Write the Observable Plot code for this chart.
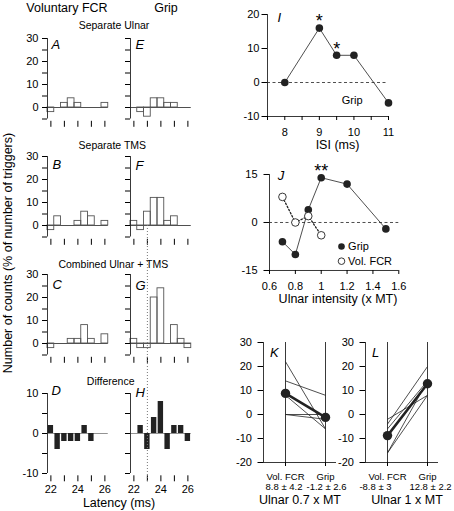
<!DOCTYPE html>
<html><head><meta charset="utf-8">
<script src="https://cdn.jsdelivr.net/npm/d3@7"></script>
<script src="https://cdn.jsdelivr.net/npm/@observablehq/plot@0.6"></script>
<style>
body{margin:0;background:#fff;}
#fig{position:relative;width:454px;height:511px;overflow:hidden;font-family:"Liberation Sans",Arial,Helvetica,sans-serif;color:#000;background:#fff;}
.lbl{position:absolute;white-space:nowrap;line-height:1;}
</style></head><body><div id="fig"></div>
<script>
// ---------------- DATA ----------------
const columnTitles = ["Voluntary FCR", "Grip"];
const rowTitles = ["Separate Ulnar", "Separate TMS", "Combined Ulnar + TMS", "Difference"];
const yTitle = "Number of counts (% of number of triggers)";
const latencyTitle = "Latency (ms)";

const latencyBins = [22, 22.5, 23, 23.5, 24, 24.5, 25, 25.5, 26];
const volSeparateUlnar  = [-2, 0, 2, 4, 2, 0, 0, 0, 2];      // A
const volSeparateTMS    = [-2, 4, 0, 0, 2, 6, 4, 0, 2];      // B
const volCombined       = [-2, 0, 0, 2, 2, 8, 2, 0, 4];      // C
const volDifference     = [2, -4, -2, -2, -2, 2, -2, 0, 0];  // D
const gripSeparateUlnar = [0, -2, -4, 4, 4, 2, 2, 0, 0];     // E
const gripSeparateTMS   = [2, -2, 6, 12, 12, 2, 4, 0, 0];    // F
const gripCombined      = [2, -2, -2, 20, 24, 0, 8, 2, -2];  // G
const gripDifference    = [0, 2, -4, 4, 8, -4, 2, 2, -2];    // H
const markerLatency = 23;

const latTicks = [22, 23, 24, 25, 26];
const latTickLabels = [22, 24, 26];
const histYTicks = [-5, 0, 5, 10, 15, 20, 25, 30];
const histYLabels = [0, 10, 20, 30];
const diffYTicks = [-10, -5, 0, 5, 10];
const diffYLabels = [-10, 0, 10];

// Panel I
const isiValues = [8, 9, 9.5, 10, 11];
const isiGrip = [0, 16, 8, 8, -6];
const isiStars = ["", "*", "*", "", ""];
const isiTicks = [7.5, 8, 8.5, 9, 9.5, 10, 10.5, 11];
const isiTickLabels = [8, 9, 10, 11];
const isiYTicks = [-10, 0, 10, 20];
const isiTitle = "ISI (ms)";
const isiSeriesLabel = "Grip";

// Panel J
const intensityGrip = [0.7, 0.8, 0.9, 1.0, 1.2, 1.5];
const gripByIntensity = [-6, -10, 4, 14, 12, -2];
const gripStars = ["", "", "", "**", "", ""];
const intensityVol = [0.7, 0.8, 0.9, 1.0];
const volByIntensity = [8, 0, 2, -4];
const intensityTicks = [0.6, 0.8, 1, 1.2, 1.4, 1.6];
const intensityYTicks = [-15, 0, 15];
const intensityTitle = "Ulnar intensity (x MT)";
const legendNames = ["Grip", "Vol. FCR"];

// Panels K, L
const tasks = ["Vol. FCR", "Grip"];
const pairedYTicks = [-20, -10, 0, 10, 20, 30];
const k07Vol  = [22, 14, 8, 0, 0];
const k07Grip = [-6, 8, -6, -2, 0];
const k07Mean = [8.8, -1.2];
const k07Stats = ["8.8 ± 4.2", "-1.2 ± 2.6"];
const k07Title = "Ulnar 0.7 x MT";
const l1Vol  = [-2, -4, -6, -16, -16];
const l1Grip = [8, 20, 14, 14, 8];
const l1Mean = [-8.8, 12.8];
const l1Stats = ["-8.8 ± 3", "12.8 ± 2.2"];
const l1Title = "Ulnar 1 x MT";

// ---------------- DRAWING ----------------
const ink = "#222";
const FONT = '"Liberation Sans", Arial, Helvetica, sans-serif';
const fig = document.getElementById("fig");

function place(svg, left, top) {
  svg.style.position = "absolute";
  svg.style.left = left + "px";
  svg.style.top = top + "px";
  fig.appendChild(svg);
}
function framed(opts, frame, margins) {
  const [x0, y0, x1, y1] = frame;
  const [mt, mr, mb, ml] = margins;
  const svg = Plot.plot({
    ...opts,
    width: x1 - x0 + ml + mr,
    height: y1 - y0 + mt + mb,
    marginTop: mt, marginRight: mr, marginBottom: mb, marginLeft: ml,
    style: {background: "transparent", overflow: "visible", fontFamily: FONT, fontSize: "11px", color: "#000"}
  });
  place(svg, x0 - ml, y0 - mt);
}
function label(text, x, y, size, rotate, extra) {
  const d = document.createElement("div");
  d.className = "lbl";
  d.textContent = text;
  d.style.left = x + "px";
  d.style.top = y + "px";
  d.style.fontSize = size + "px";
  d.style.transform = "translate(-50%, -50%)" + (rotate ? ` rotate(${rotate}deg)` : "");
  if (extra) Object.assign(d.style, extra);
  fig.appendChild(d);
}
function letterMark(letter, dx, dy) {
  return Plot.text([letter], {text: d => d, frameAnchor: "top-left", dx, dy, lineAnchor: "top", textAnchor: "start", fontSize: 13, fontStyle: "italic"});
}

const latDomain = [21.75, 26.25];

function histogram(values, letter, frame, lo, labelled) {
  const data = latencyBins.map((t, i) => ({t, v: values[i]})).filter(d => d.v !== 0);
  framed({
    x: {domain: latDomain},
    y: {domain: [-5, 30]},
    marks: [
      Plot.ruleY([0], {stroke: ink, strokeWidth: 0.8}),
      Plot.rect(data, {x1: d => d.t - 0.25, x2: d => d.t + 0.25, y1: 0, y2: "v", fill: "none", stroke: "#555", strokeWidth: 0.9, inset: 0}),
      Plot.ruleX([latDomain[0]], {y1: -5, y2: 30, stroke: ink, strokeWidth: 0.9}),
      Plot.axisY({ticks: histYTicks, tickSize: 5, tickPadding: 4, label: null,
        tickFormat: d => labelled && histYLabels.includes(d) ? String(d) : ""}),
      Plot.axisX({ticks: latTicks, tickSize: 6, dy: 2.3, label: null, tickFormat: () => ""}),
      letterMark(letter, lo[0], lo[1])
    ]
  }, frame, [12, 6, 16, 32]);
}
function difference(values, letter, frame, lo, labelled) {
  const data = latencyBins.map((t, i) => ({t, v: values[i]})).filter(d => d.v !== 0);
  framed({
    x: {domain: latDomain},
    y: {domain: [-10, 10]},
    marks: [
      Plot.ruleY([0], {stroke: "#777", strokeWidth: 0.8}),
      Plot.rect(data, {x1: d => d.t - 0.2, x2: d => d.t + 0.2, y1: 0, y2: "v", fill: ink, inset: 0}),
      Plot.ruleX([latDomain[0]], {y1: -10, y2: 10, stroke: ink, strokeWidth: 0.9}),
      Plot.axisY({ticks: diffYTicks, tickSize: 5, tickPadding: 4, label: null,
        tickFormat: d => labelled && diffYLabels.includes(d) ? String(d) : ""}),
      Plot.axisX({ticks: latTicks, tickSize: 6, tickPadding: 3, dy: 2.3, label: null,
        tickFormat: d => latTickLabels.includes(d) ? String(d) : ""}),
      letterMark(letter, lo[0], lo[1])
    ]
  }, frame, [14, 6, 24, 32]);
}

const leftX = [46.6, 107.35], rightX = [129.9, 190.65];
histogram(volSeparateUlnar, "A", [leftX[0], 38, leftX[1], 118.5], [4, 1.3], true);
histogram(volSeparateTMS,   "B", [leftX[0], 156, leftX[1], 236.5], [5, 3], true);
histogram(volCombined,      "C", [leftX[0], 273.5, leftX[1], 354], [5, 4.8], true);
difference(volDifference,   "D", [leftX[0], 392.7, leftX[1], 472.7], [4, -7.7], true);
histogram(gripSeparateUlnar,"E", [rightX[0], 38, rightX[1], 118.5], [5, 1.3], false);
histogram(gripSeparateTMS,  "F", [rightX[0], 156, rightX[1], 236.5], [5, 4], false);
histogram(gripCombined,     "G", [rightX[0], 273.5, rightX[1], 354], [5, 5.8], false);
difference(gripDifference,  "H", [rightX[0], 392.7, rightX[1], 472.7], [5, -6], false);

// dotted latency marker across F, G, H
framed({
  x: {domain: latDomain, axis: null},
  marks: [Plot.ruleX([markerLatency], {stroke: "#777", strokeWidth: 1, strokeDasharray: "1,2"})]
}, [rightX[0], 225, rightX[1], 483], [0, 0, 0, 0]);

// Panel I
{
  const data = isiValues.map((x, i) => ({x, y: isiGrip[i], star: isiStars[i]}));
  framed({
    x: {domain: [7.5, 11]},
    y: {domain: [-10, 20]},
    marks: [
      Plot.ruleY([0], {stroke: ink, strokeWidth: 0.8, strokeDasharray: "3,2.5"}),
      Plot.ruleX([7.5], {stroke: ink, strokeWidth: 0.9}),
      Plot.ruleY([-10], {stroke: ink, strokeWidth: 0.9}),
      Plot.line(data, {x: "x", y: "y", stroke: ink, strokeWidth: 0.8}),
      Plot.dot(data, {x: "x", y: "y", r: 3.8, fill: ink}),
      Plot.text(data.filter(d => d.star), {x: "x", y: "y", text: "star", dy: -6.5, fontSize: 18}),
      Plot.axisY({ticks: isiYTicks, tickSize: 5.5, tickPadding: 2.5, label: null, tickFormat: String}),
      Plot.axisX({ticks: isiTicks, tickSize: 4, tickPadding: 8, label: null,
        tickFormat: d => isiTickLabels.includes(d) ? String(d) : ""}),
      Plot.text([isiSeriesLabel], {text: d => d, frameAnchor: "bottom-right", dx: -26, dy: -16, textAnchor: "end", lineAnchor: "middle", fontSize: 11}),
      letterMark("I", 10, -2)
    ]
  }, [267, 14.3, 388, 116.3], [10, 10, 24, 30]);
  label(isiTitle, 337.5, 145, 12.5);
}

// Panel J
{
  const grip = intensityGrip.map((x, i) => ({x, y: gripByIntensity[i], star: gripStars[i]}));
  const vol = intensityVol.map((x, i) => ({x, y: volByIntensity[i]}));
  framed({
    x: {domain: [0.6, 1.6]},
    y: {domain: [-15, 15]},
    marks: [
      Plot.ruleY([0], {stroke: ink, strokeWidth: 0.8, strokeDasharray: "3,2.5"}),
      Plot.ruleX([0.6], {stroke: ink, strokeWidth: 0.9}),
      Plot.ruleY([-15], {stroke: ink, strokeWidth: 0.9}),
      Plot.line(grip, {x: "x", y: "y", stroke: ink, strokeWidth: 0.8}),
      Plot.line(vol, {x: "x", y: "y", stroke: ink, strokeWidth: 1.3, strokeDasharray: "1.5,2"}),
      Plot.dot(grip, {x: "x", y: "y", r: 3.8, fill: ink}),
      Plot.dot(vol, {x: "x", y: "y", r: 3.8, fill: "white", stroke: ink, strokeWidth: 0.9}),
      Plot.text(grip.filter(d => d.star), {x: "x", y: "y", text: "star", dy: -6, fontSize: 18}),
      Plot.axisY({ticks: intensityYTicks, tickSize: 5.5, tickPadding: 6.5, label: null, tickFormat: String}),
      Plot.axisX({ticks: intensityTicks, tickSize: 4, tickPadding: 8, label: null, tickFormat: String}),
      Plot.dot([legendNames[0]], {frameAnchor: "bottom-left", dx: 72, dy: -24, r: 3.3, fill: ink}),
      Plot.dot([legendNames[1]], {frameAnchor: "bottom-left", dx: 72, dy: -9.3, r: 3.3, fill: "white", stroke: ink, strokeWidth: 0.9}),
      Plot.text([legendNames[0]], {text: d => d, frameAnchor: "bottom-left", dx: 78.6, dy: -24, textAnchor: "start", lineAnchor: "middle", fontSize: 11}),
      Plot.text([legendNames[1]], {text: d => d, frameAnchor: "bottom-left", dx: 78.6, dy: -9.3, textAnchor: "start", lineAnchor: "middle", fontSize: 11}),
      letterMark("J", 8.3, -4)
    ]
  }, [268.7, 174, 398, 270], [10, 10, 24, 36]);
  label(intensityTitle, 338, 299.3, 12.5);
}

// Panels K, L
function paired(vol, grip, means, stats, statOffsets, title, titleOffset, letter, frame) {
  const subjects = vol.map((v, i) => ({vol: v, grip: grip[i]}));
  const meanData = tasks.map((t, i) => ({task: t, v: means[i]}));
  framed({
    x: {type: "point", domain: tasks, padding: 0.4, align: 0.667},
    y: {domain: [-20, 30]},
    marks: [
      Plot.ruleX(tasks, {x: d => d, y1: -20, y2: 30, stroke: ink, strokeWidth: 0.9}),
      Plot.ruleY([-20], {stroke: ink, strokeWidth: 0.9}),
      Plot.frame({anchor: "left", stroke: ink, strokeWidth: 0.9}),
      Plot.link(subjects, {x1: () => tasks[0], y1: "vol", x2: () => tasks[1], y2: "grip", stroke: ink, strokeWidth: 0.8}),
      Plot.line(meanData, {x: "task", y: "v", stroke: ink, strokeWidth: 2.5}),
      Plot.dot(meanData, {x: "task", y: "v", r: 4.7, fill: ink}),
      Plot.axisY({ticks: pairedYTicks, tickSize: 5.5, tickPadding: 6, label: null, tickFormat: String}),
      Plot.axisX({tickSize: 4, label: null, tickFormat: () => ""}),
      Plot.text(tasks, {x: d => d, text: d => d, frameAnchor: "bottom", dy: 14.5, lineAnchor: "middle", fontSize: 9.5}),
      ...stats.map((s, i) => Plot.text([s], {x: () => tasks[i], text: d => d, frameAnchor: "bottom", dy: 24.5, dx: statOffsets[i], lineAnchor: "middle", fontSize: 9.5})),
      Plot.text([title], {text: d => d, frameAnchor: "bottom", dy: 37, dx: titleOffset, lineAnchor: "middle", fontSize: 12.5}),
      letterMark(letter, 6.5, 5)
    ]
  }, frame, [8, 20, 46, 26]);
}
paired(k07Vol, k07Grip, k07Mean, k07Stats, [-1.5, 1], k07Title, 0, "K", [263.3, 341.7, 336.3, 461.7]);
paired(l1Vol, l1Grip, l1Mean, l1Stats, [-12, 3], l1Title, 5, "L", [365, 341.7, 438, 461.7]);

// Titles
label(columnTitles[0], 67, 8, 12.5);
label(columnTitles[1], 166, 8, 12.5);
label(rowTitles[0], 114, 24.7, 10.5);
label(rowTitles[1], 112.3, 145, 10.5);
label(rowTitles[2], 113.3, 264, 10.5);
label(rowTitles[3], 110.7, 381, 10.5);
label(yTitle, 8, 252.5, 12.5, -90);
label(latencyTitle, 119, 503.3, 12.5);
</script></body></html>
